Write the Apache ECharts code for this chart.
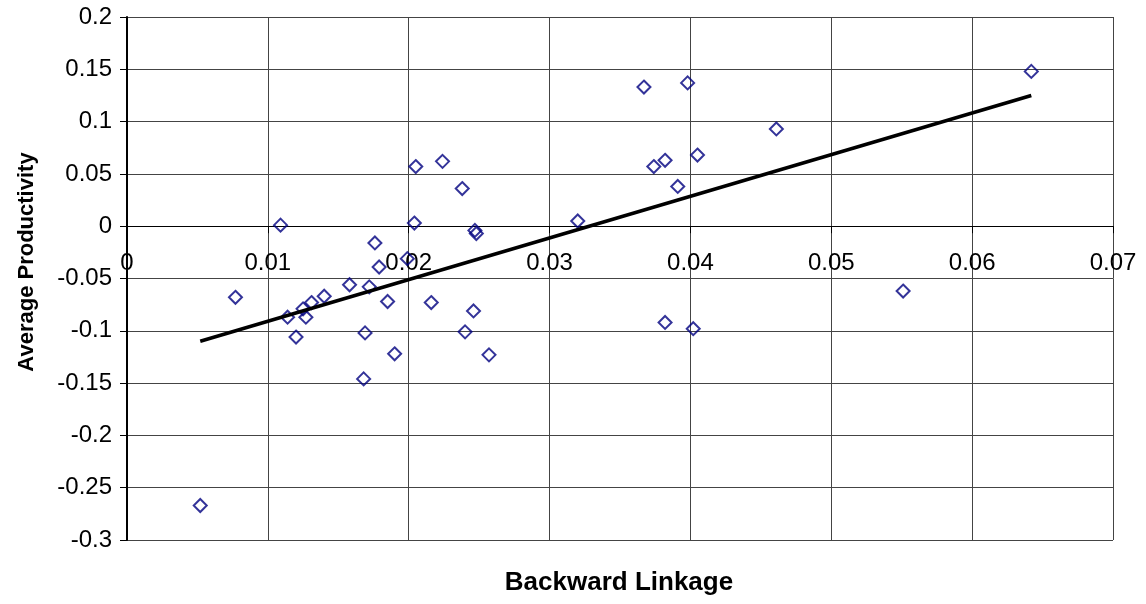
<!DOCTYPE html>
<html>
<head>
<meta charset="utf-8">
<script src="https://cdn.jsdelivr.net/npm/echarts@6/dist/echarts.min.js"></script>
<style>
html,body{margin:0;padding:0;background:#fff;}
#c{width:1146px;height:604px;}
</style>
</head>
<body>
<div id="c"></div>
<script>
// Data
var backwardLinkage = [0.0052,0.0077,0.0109,0.0114,0.0120,0.0125,0.0127,0.0131,0.0140,0.0158,
  0.0168,0.0169,0.0172,0.0176,0.0179,0.0185,0.0190,0.0199,0.0204,0.0205,
  0.0216,0.0224,0.0238,0.0240,0.0246,0.0247,0.0248,0.0257,0.0320,0.0367,
  0.0374,0.0382,0.0382,0.0391,0.0398,0.0402,0.0405,0.0461,0.0551,0.0642];
var averageProductivity = [-0.267,-0.068,0.001,-0.087,-0.106,-0.079,-0.087,-0.073,-0.067,-0.056,
  -0.146,-0.102,-0.058,-0.016,-0.039,-0.072,-0.122,-0.031,0.003,0.057,
  -0.073,0.062,0.036,-0.101,-0.081,-0.004,-0.007,-0.123,0.005,0.133,
  0.057,0.063,-0.092,0.038,0.137,-0.098,0.068,0.093,-0.062,0.148];
var trendX = [0.0052, 0.0642];
var trendY = [-0.110, 0.125];
var xTitle = 'Backward Linkage';
var yTitle = 'Average Productivity';
var yMin = -0.3, yMax = 0.2;

var points = backwardLinkage.map(function(x,i){return [x, averageProductivity[i]];});
var trend = trendX.map(function(x,i){return [x, trendY[i]];});

var gridTop = 17, gridBottom = 64, H = 604;
var plotH = H - gridTop - gridBottom;
// place the x axis at y = 0 (as in the reference)
var zeroOffset = -plotH * (0 - yMin) / (yMax - yMin);

var font = 'Liberation Sans, Arial, sans-serif';
var chart = echarts.init(document.getElementById('c'), null, {renderer:'canvas'});
chart.setOption({
  animation:false,
  backgroundColor:'#fff',
  grid:{left:127, right:33, top:gridTop, bottom:gridBottom, containLabel:false},
  xAxis:{
    type:'value', min:0, max:0.07, interval:0.01, position:'bottom', offset:zeroOffset,
    axisLine:{show:true, onZero:false, lineStyle:{color:'#000', width:1}},
    axisTick:{show:true, inside:false, length:7, lineStyle:{color:'#000', width:1}},
    axisLabel:{fontFamily:font, fontSize:24, color:'#000', margin:25},
    splitLine:{show:true, lineStyle:{color:'#444', width:1}}
  },
  yAxis:{
    type:'value', min:yMin, max:yMax, interval:0.05,
    axisLine:{show:true, onZero:false, lineStyle:{color:'#000', width:2}},
    axisTick:{show:true, length:7, lineStyle:{color:'#000', width:1}},
    axisLabel:{fontFamily:font, fontSize:24, color:'#000', margin:15},
    splitLine:{show:true, lineStyle:{color:'#444', width:1}}
  },
  graphic:[
    {type:'text', position:[619,583], style:{text:xTitle, font:'bold 26px '+font, fill:'#000', textAlign:'center', textVerticalAlign:'middle'}},
    {type:'text', position:[27,262], rotation:Math.PI/2, style:{text:yTitle, font:'bold 22px '+font, fill:'#000', textAlign:'center', textVerticalAlign:'middle'}}
  ],
  series:[
    {type:'scatter', data:points, symbol:'diamond', symbolSize:[13,13],
     itemStyle:{color:'rgba(0,0,0,0)', borderColor:'#000080', borderWidth:2}, z:3},
    {type:'line', data:trend, showSymbol:false, symbol:'none',
     lineStyle:{color:'#000', width:3.5}, z:4}
  ]
});
</script>
</body>
</html>
